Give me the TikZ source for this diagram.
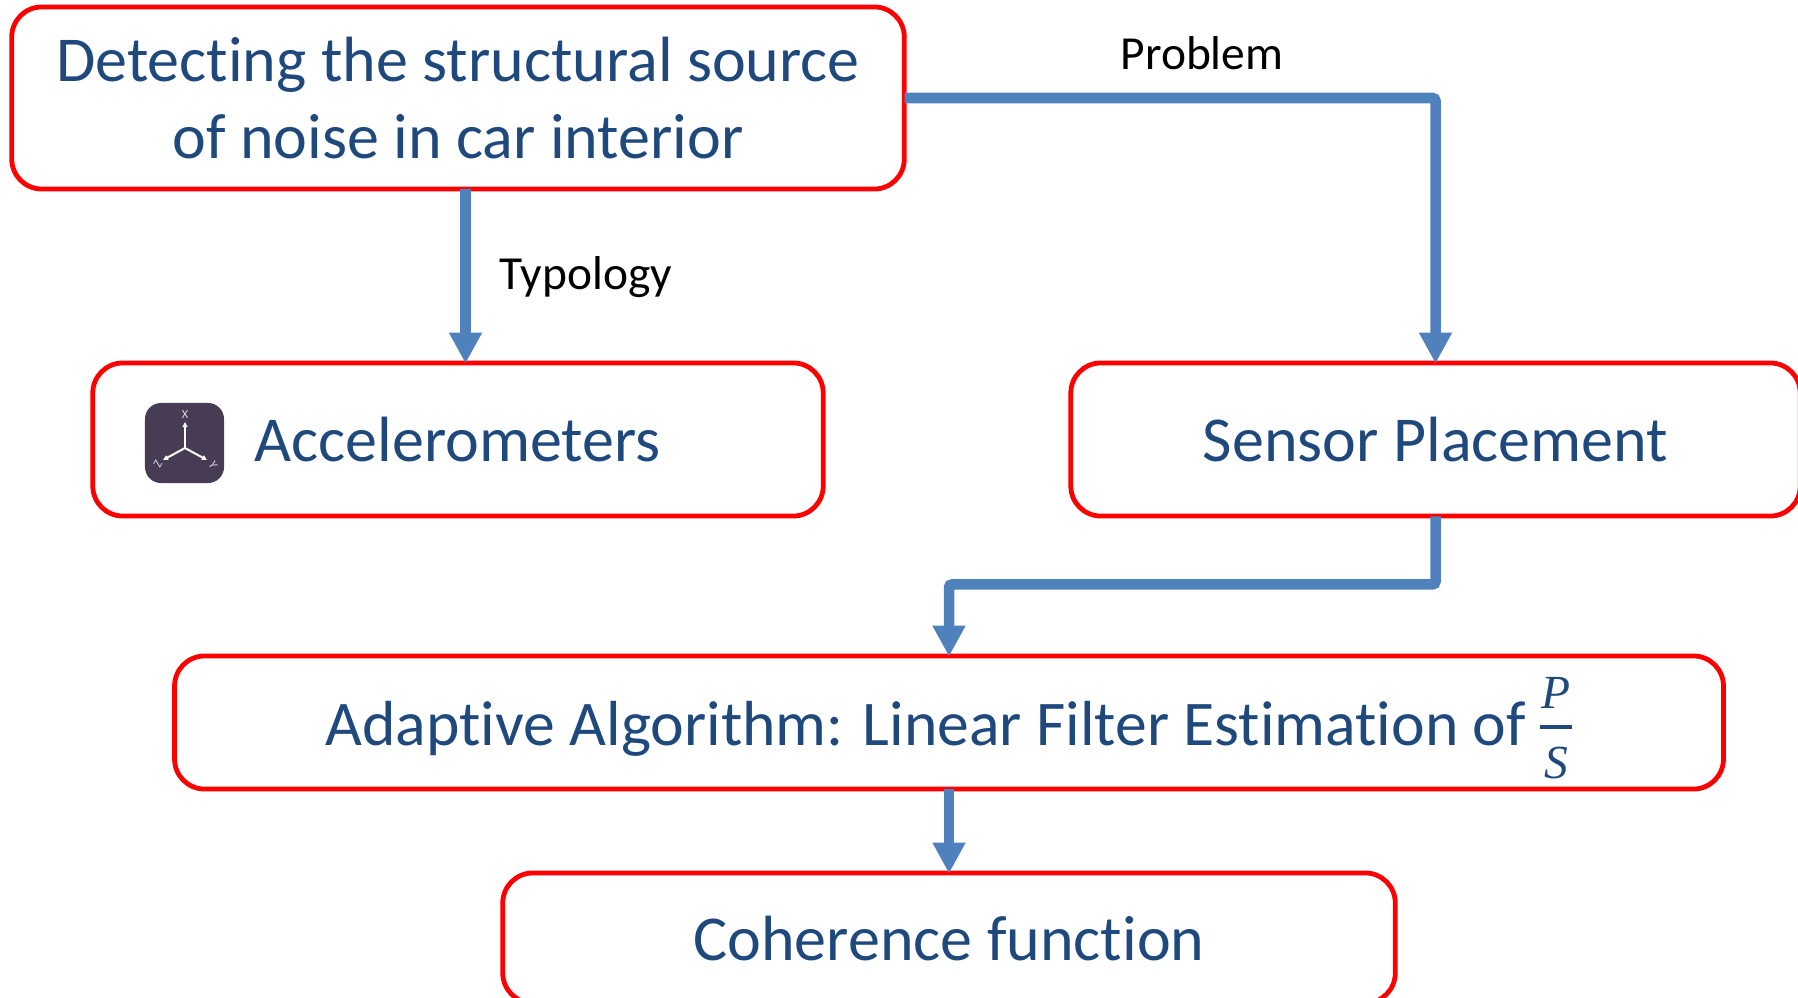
\documentclass[tikz,border=0pt]{standalone}
\usepackage{fontspec}
\setmainfont{Carlito}[Ligatures=NoCommon]
\newfontfamily\ratiofont{Liberation Serif}[ItalicFont=* Italic]
\usetikzlibrary{arrows.meta,calc}
\definecolor{boxline}{rgb}{1.000000, 0.000000, 0.000000}
\definecolor{boxtext}{rgb}{0.121569, 0.286275, 0.490196}
\definecolor{flowline}{rgb}{0.309804, 0.505882, 0.741176}
\definecolor{iconfill}{rgb}{0.282353, 0.235294, 0.329412}
\newcommand{\ratioletter}[2]{\rlap{\makebox[9.1pt]{\smash{\raisebox{#1}{\ratiofont\itshape\fontsize{13.5}{14}\selectfont #2}}}}}
\tikzset{
  flowbox/.style={draw=boxline,line width=0.048cm,rounded corners=0.3cm,text=boxtext,align=center,font=\fontsize{18.2}{21.9}\selectfont,inner sep=0pt},
  flow/.style={draw=flowline,line width=0.105cm,shorten <=-0.02cm,shorten >=-0.03cm,-{Triangle[length=0.31cm,width=0.31cm]}},
  flowlabel/.style={text=black,font=\fontsize{13.5}{16}\selectfont,inner sep=0pt},
  iconaxis/.style={draw=white,line width=0.02cm,-{Triangle[length=0.05cm,width=0.05cm]}},
  iconlabel/.style={text=white!80!iconfill,font=\fontsize{3.5}{4}\selectfont,inner sep=0pt}
}
\begin{document}
\begin{tikzpicture}[x=0.01cm,y=-0.01cm]
\useasboundingbox (0,0) rectangle (1798,997);
% boxes
\node[flowbox,minimum width=8.92cm,minimum height=1.82cm] (noise) at (458,98) {Detecting the structural source\\of noise in car interior};
\node[flowbox,minimum width=7.30cm,minimum height=1.53cm] (accel) at (458,439.5) {};
\node[flowbox,minimum width=7.29cm,minimum height=1.53cm] (sensor) at (1435.5,439.5) {Sensor Placement};
\node[flowbox,minimum width=15.48cm,minimum height=1.33cm,text height=12.8pt,text depth=0pt,font=\fontsize{18.1}{21.9}\selectfont] (adaptive) at (949,722.5) {Adaptive Algorithm: Linear Filter Estimation of \ratioletter{10.5pt}{P}\ratioletter{-9.4pt}{S}\rule[4.6pt]{9.1pt}{1.1pt}};
\node[flowbox,minimum width=8.92cm,minimum height=1.30cm] (coherence) at (949,938) {Coherence function};
\node[text=boxtext,font=\fontsize{18.2}{21.9}\selectfont,inner sep=0pt] (acceltext) at (457.5,440) {Accelerometers};
% accelerometer icon
\node[fill=iconfill,rounded corners=0.16cm,minimum width=0.79cm,minimum height=0.80cm,inner sep=0pt] (icon) at (184.5,443) {};
\coordinate (origin) at (185,448);
\draw[iconaxis] (origin) -- (185,422);
\draw[iconaxis] (origin) -- (163,460);
\draw[iconaxis] (origin) -- (207,460);
\node[iconlabel] (iconx) at (185,415) {X};
\node[iconlabel,rotate=60] (iconz) at (158,464) {Z};
\node[iconlabel,rotate=-60] (icony) at (213,465) {Y};
% connectors
\coordinate (typo) at ($(accel.north)+(7.5,0)$);
\draw[flow] (noise.south -| typo) -- (typo);
\draw[flow,rounded corners=0.03cm] (noise.east) -| (sensor.north);
\draw[flow,rounded corners=0.03cm] (sensor.south) -- ++(0,66) -| (adaptive.north);
\draw[flow] (adaptive.south) -- (coherence.north);
% labels
\node[flowlabel] (problem) at (1202,53) {Problem};
\node[flowlabel] (typology) at (586,277) {Typology};
\end{tikzpicture}
\end{document}
